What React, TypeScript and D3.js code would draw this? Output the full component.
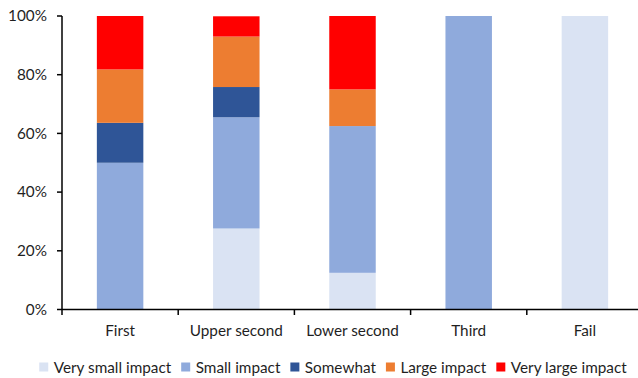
import React, { useLayoutEffect, useRef, useState } from "react";
import * as d3 from "d3";

const categories = ["First", "Upper second", "Lower second", "Third", "Fail"];
const seriesNames = ["Very small impact", "Small impact", "Somewhat", "Large impact", "Very large impact"];
const seriesColors = ["#DAE3F3", "#8FAADC", "#2F5597", "#ED7D31", "#FF0000"];
// values in % per category, same order as seriesNames
const verySmall = [0, 27.6, 12.5, 0, 100];
const small = [50, 37.9, 50, 100, 0];
const somewhat = [13.6, 10.3, 0, 0, 0];
const large = [18.2, 17.2, 12.5, 0, 0];
const veryLarge = [18.2, 6.9, 25, 0, 0];
const yTicks = [0, 20, 40, 60, 80, 100];

const W = 638;
const H = 378;
const FONT = "Lato, 'Liberation Sans', sans-serif";
const FS = 15.3;
const TXT = "#1f1f1f";

export default function App() {
  const seriesValues = [verySmall, small, somewhat, large, veryLarge];
  const rows = categories.map((c, i) => {
    const r: any = { cat: c };
    seriesNames.forEach((s, k) => (r[s] = seriesValues[k][i]));
    return r;
  });
  const stack = d3.stack<any>().keys(seriesNames)(rows);

  const left = 62;
  const right = 643;
  const top = 16;
  const bottom = 309.5;
  const x = d3.scaleBand<string>().domain(categories).range([left, right]).paddingInner(0.6).paddingOuter(0.3);
  const y = d3.scaleLinear().domain([0, 100]).range([bottom, top]);
  const step = x.step();

  const legendRef = useRef<SVGGElement>(null);
  const [widths, setWidths] = useState<number[] | null>(null);
  useLayoutEffect(() => {
    if (!legendRef.current) return;
    const texts = Array.from(legendRef.current.querySelectorAll("text.m")) as SVGTextElement[];
    setWidths(texts.map((t) => t.getComputedTextLength()));
  }, []);

  const sw = 9;
  const gapSwText = 5.5;
  const gapItem = 10;
  let legendX: number[] = [];
  if (widths) {
    const total = widths.reduce((a, w) => a + sw + gapSwText + w, 0) + gapItem * (widths.length - 1);
    let cx = 333 - total / 2;
    legendX = widths.map((w) => {
      const p = cx;
      cx += sw + gapSwText + w + gapItem;
      return p;
    });
  }
  const legendY = 368;

  return (
    <svg width={W} height={H} style={{ position: "absolute", left: 0, top: 0, background: "#fff" }} fontFamily={FONT}>
      {stack.map((layer, k) => (
        <g key={layer.key} fill={seriesColors[k]}>
          {layer.map((d, i) =>
            d[1] - d[0] > 0 ? (
              <rect key={i} x={x(categories[i])} width={x.bandwidth()} y={y(d[1])} height={y(d[0]) - y(d[1])} />
            ) : null
          )}
        </g>
      ))}
      {/* y axis */}
      <line x1={left} x2={left} y1={top} y2={bottom} stroke="#000" strokeWidth={1.5} />
      {yTicks.map((t) => (
        <g key={t}>
          <line x1={left - 5} x2={left} y1={y(t)} y2={y(t)} stroke="#000" strokeWidth={1.5} />
          <text x={47} y={y(t)} dy="0.35em" textAnchor="end" fontSize={FS} fill={TXT}>
            {t}%
          </text>
        </g>
      ))}
      {/* x axis */}
      <line x1={left} x2={right} y1={bottom} y2={bottom} stroke="#000" strokeWidth={1.5} />
      {d3.range(categories.length + 1).map((i) => (
        <line key={i} x1={left + i * step} x2={left + i * step} y1={bottom} y2={bottom + 5.5} stroke="#000" strokeWidth={1.5} />
      ))}
      {categories.map((c) => (
        <text key={c} x={(x(c) as number) + x.bandwidth() / 2} y={336} textAnchor="middle" fontSize={FS} fill={TXT}>
          {c}
        </text>
      ))}
      {/* legend */}
      <g ref={legendRef}>
        {seriesNames.map((s, k) => (
          <g key={s} transform={`translate(${widths ? legendX[k] : 0},0)`} opacity={widths ? 1 : 0}>
            <rect x={0} y={legendY - sw / 2 - 1} width={sw} height={sw} fill={seriesColors[k]} />
            <text className="m" x={sw + gapSwText} y={legendY} dy="0.35em" fontSize={FS} fill={TXT}>
              {s}
            </text>
          </g>
        ))}
      </g>
    </svg>
  );
}
